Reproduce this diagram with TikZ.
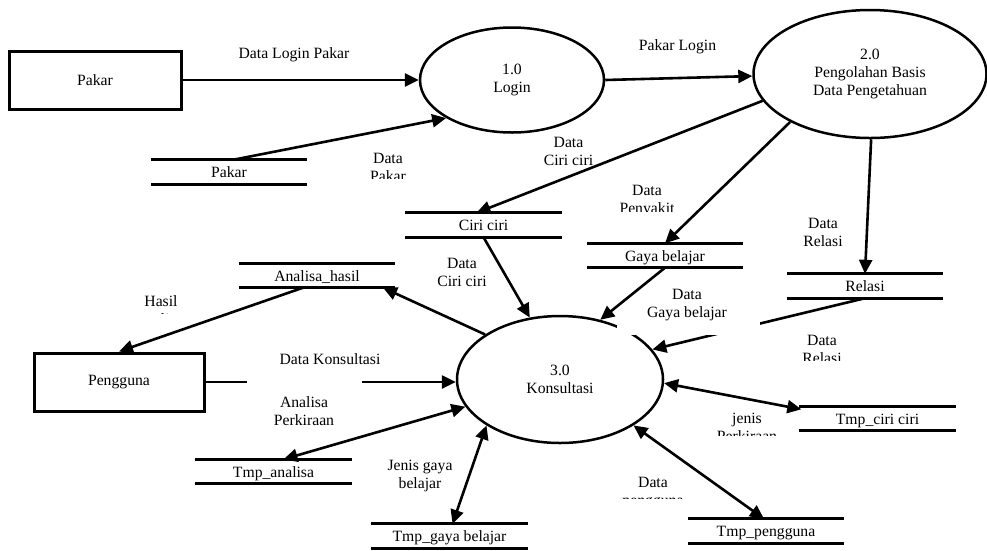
\documentclass[tikz,border=0pt]{standalone}
\usepackage{fontspec}
\setmainfont{Liberation Serif}
\usetikzlibrary{shapes.geometric,arrows.meta,calc}

\tikzset{
  every node/.style={font=\fontsize{15.7}{18}\selectfont},
  process/.style={ellipse, draw, line width=2.5pt, inner sep=0pt, align=center},
  entity/.style={rectangle, draw, line width=3pt, minimum width=172pt, minimum height=58pt, inner sep=0pt},
  store/.style={rectangle, minimum width=156pt, minimum height=24pt, inner sep=0pt, text height=11.5pt, text depth=0.5pt},
  storeline/.style={line width=3.2pt},
  flow/.style={line width=2.6pt, -{Triangle[length=14pt,width=13pt]}},
  biflow/.style={line width=2.6pt, {Triangle[length=14pt,width=13pt]}-{Triangle[length=14pt,width=13pt]}},
  lbl/.style={align=center, inner sep=0pt},
  mask/.style={fill=white, draw=none, inner sep=0pt}
}

% data store: two horizontal rules with the name between them
\newcommand{\datastore}[4]{%
  \node[store] (#1) at (#2,#3) {#4};
  \draw[storeline] (#1.north west) -- (#1.north east) (#1.south west) -- (#1.south east);}

% flow label whose text box is cut off at a given bottom edge
\newcommand{\cutlabel}[5]{%
  \begin{scope}
    \clip (#2-80,#3-40) rectangle (#2+80,#4);
    \node[lbl] (#1) at (#2,#3) {#5};
  \end{scope}}

\begin{document}
\begin{tikzpicture}[x=1pt,y=-1pt]
\useasboundingbox (0,0) rectangle (987,550);

% external entities
\node[entity] (pakar) at (95,80) {Pakar};
\node[entity, minimum width=170pt] (pengguna) at (119,382) {Pengguna};

% processes
\node[process, minimum width=184pt, minimum height=105pt] (login) at (512,80) {1.0\\Login};
\node[process, minimum width=233pt, minimum height=128pt] (olah) at (870,74) {2.0\\Pengolahan Basis\\Data Pengetahuan};
\node[process, minimum width=206pt, minimum height=127pt] (konsul) at (560,379.5) {3.0\\Konsultasi};

% data stores
\datastore{stpakar}{229}{172}{Pakar}
\datastore{stciri}{483.5}{225}{Ciri ciri}
\datastore{stgaya}{665}{255.5}{Gaya belajar}
\datastore{strelasi}{865}{286}{Relasi}
\datastore{sthasil}{317}{275.5}{Analisa\_hasil}
\datastore{sttmpan}{273.5}{471.5}{Tmp\_analisa}
\datastore{sttmpgaya}{449.5}{536}{Tmp\_gaya belajar}
\datastore{sttmpciri}{877.5}{418.5}{Tmp\_ciri ciri}
\datastore{sttmppeng}{766}{531}{Tmp\_pengguna}

% flows partly hidden behind label boxes
\draw[flow] (strelasi.south) -- (konsul.18);
\draw[flow] (pengguna.east) -- (konsul.west |- pengguna.east);

% label boxes
\node[mask, minimum width=115pt, minimum height=32pt] (konsmask) at (304.5,382) {};
\node[mask, minimum width=143pt, minimum height=50pt] (gayamask) at (688.5,310) {};

% remaining flows
\draw[flow] (pakar.east) -- (login.west);
\draw[flow] ([xshift=4pt]stpakar.north) -- (login.210);
\draw[flow] (login.east) -- (olah.181);
\draw[flow] (olah.194) -- ([xshift=-7pt]stciri.north);
\draw[flow] (olah.211) -- (stgaya.north);
\draw[flow] (olah.271) -- (strelasi.north);
\draw[flow] (stciri.south) -- (konsul.116);
\draw[flow] (stgaya.south) -- (konsul.56);
\draw[flow] (konsul.149) -- ([xshift=66pt]sthasil.south);
\draw[flow] ([xshift=-14pt]sthasil.south) -- (pengguna.north);
\draw[biflow] (konsul.196) -- ([xshift=10pt]sttmpan.north);
\draw[biflow] (konsul.212) -- ([xshift=3pt]sttmpgaya.north);
\draw[biflow] (konsul.358) -- ([xshift=2pt,yshift=-3pt]sttmpciri.north west);
\draw[biflow] (konsul.328) -- ([xshift=-2pt]sttmppeng.north);

% flow labels
\node[lbl] (lLoginPakar) at (294,55) {Data Login Pakar};
\node[lbl] (lPakarLogin) at (677.5,47) {Pakar Login};
\cutlabel{lDataPakar}{388}{167}{178.5}{Data\\Pakar}
\node[lbl] (lCiri1) at (568.5,151) {Data\\Ciri ciri};
\cutlabel{lPenyakit}{647}{201}{211.5}{Data\\Penyakit}
\node[lbl] (lRelasi1) at (823,232) {Data\\Relasi};
\node[lbl] (lCiri2) at (462,272.5) {Data\\Ciri ciri};
\cutlabel{lHasil}{161}{310}{313.5}{Hasil\\analisa}
\node[lbl] (lGaya) at (687,305.5) {Data\\Gaya belajar};
\cutlabel{lRelasi2}{822}{349}{360.5}{Data\\Relasi}
\node[lbl] (lKonsul) at (330,359) {Data Konsultasi};
\node[lbl] (lAnalisa) at (304,411.5) {Analisa\\Perkiraan};
\cutlabel{lJenis}{747}{427}{435}{jenis\\Perkiraan}
\node[lbl] (lJenisGaya) at (420,475.5) {Jenis gaya\\belajar};
\cutlabel{lPengguna}{653}{493}{498.3}{Data\\pengguna}
\end{tikzpicture}
\end{document}
